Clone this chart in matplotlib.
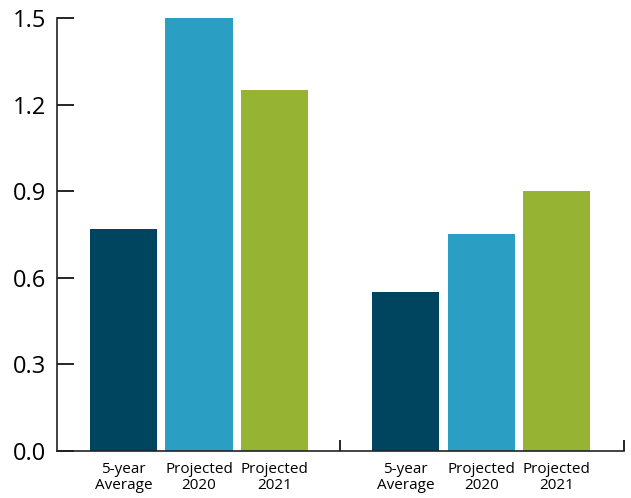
import matplotlib
matplotlib.use("Agg")
import matplotlib.pyplot as plt

# Data
labels = ["5-year\nAverage", "Projected\n2020", "Projected\n2021"]
group1 = [0.77, 1.50, 1.25]
group2 = [0.55, 0.75, 0.90]
colors = ["#00455f", "#2b9fc3", "#97b334"]
yticks = [0.0, 0.3, 0.6, 0.9, 1.2, 1.5]

plt.rcParams['font.family'] = ['Open Sans', 'DejaVu Sans']

fig = plt.figure(figsize=(6.31, 4.98), dpi=100)
ax = fig.add_axes([0.0903, 0.0944, 0.8987, 0.8695])

x1 = [0, 1, 2]
x2 = [3.74, 4.74, 5.74]
ax.bar(x1, group1, width=0.89, color=colors)
ax.bar(x2, group2, width=0.89, color=colors)

ax.set_xlim(-0.88, 6.63)
ax.set_ylim(0, 1.5)

ax.set_xticks(x1 + x2)
ax.set_xticklabels(labels * 2, fontsize=11, linespacing=1.1)
ax.tick_params(axis='x', which='major', length=0, pad=8)
ax.set_xticks([2.87, 6.63], minor=True)
ax.tick_params(axis='x', which='minor', direction='in', length=8, width=1.2)

ax.set_yticks(yticks)
ax.set_yticklabels([f"{v:.1f}" for v in yticks], fontsize=17)
ax.tick_params(axis='y', direction='in', length=12, width=1.2, pad=8)

for s in ['top', 'right']:
    ax.spines[s].set_visible(False)
for s in ['left', 'bottom']:
    ax.spines[s].set_linewidth(1.2)
    ax.spines[s].set_color('#222222')

fig.savefig("out.png", dpi=100)
